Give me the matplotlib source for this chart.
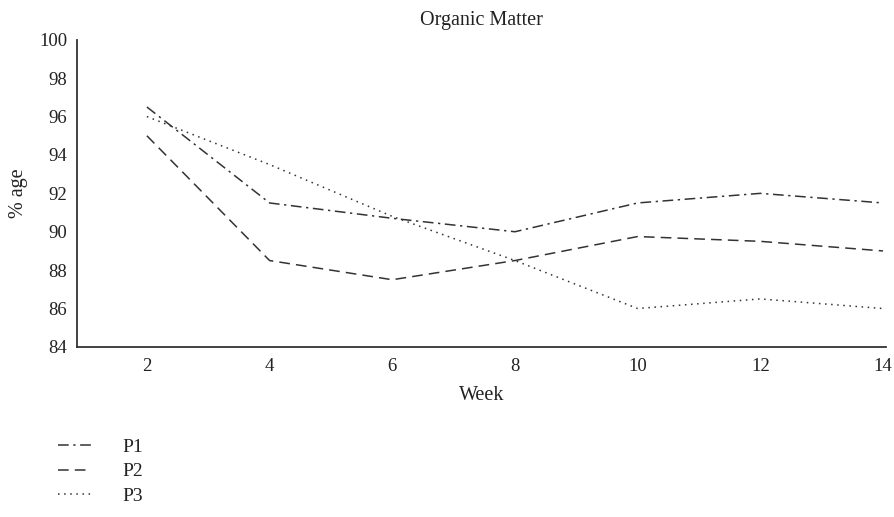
import matplotlib.pyplot as plt

plt.rcParams['font.family'] = ['Liberation Serif', 'DejaVu Serif']

weeks = [2, 4, 6, 8, 10, 12, 14]
p1 = [96.5, 91.5, 90.7, 90.0, 91.5, 92.0, 91.5]
p2 = [95.0, 88.5, 87.5, 88.5, 89.75, 89.5, 89.0]
p3 = [96.0, 93.5, 90.8, 88.5, 86.0, 86.5, 86.0]

fig = plt.figure(figsize=(8.95, 5.17), dpi=100)
ax = fig.add_axes([0.086, 0.329, 0.904, 0.594])

ax.plot(weeks, p1, color='#333333', lw=1.1, linestyle=(0, (7, 3, 1.5, 3)), label='P1')
ax.plot(weeks, p2, color='#333333', lw=1.1, linestyle=(0, (7, 4)), label='P2')
ax.plot(weeks, p3, color='#333333', lw=1.1, linestyle=(0, (1, 3)), label='P3')

ax.set_xlim(0.86, 14.05)
ax.set_ylim(84, 100)
ax.set_xticks(weeks)
ax.set_yticks(range(84, 101, 2))
ax.tick_params(length=0, labelsize=13.5, pad=8, colors='#222222')
ax.tick_params(axis='y', pad=7)
for s in ['top', 'right']:
    ax.spines[s].set_visible(False)
ax.spines['left'].set_linewidth(1.3)
ax.spines['bottom'].set_linewidth(1.3)
ax.spines['left'].set_color('#333333')
ax.spines['bottom'].set_color('#333333')

ax.set_title('Organic Matter', fontsize=14.5, pad=11, color='#222222')
ax.set_xlabel('Week', fontsize=14.5, labelpad=8, color='#222222')
ax.set_ylabel('% age', fontsize=14.5, labelpad=8, color='#222222')

fig.legend(loc='upper left', bbox_to_anchor=(0.045, 0.186), frameon=False,
           fontsize=14, handlelength=1.7, labelspacing=0.35, handletextpad=1.6,
           labelcolor='#222222')

fig.savefig('out.png', dpi=100)
